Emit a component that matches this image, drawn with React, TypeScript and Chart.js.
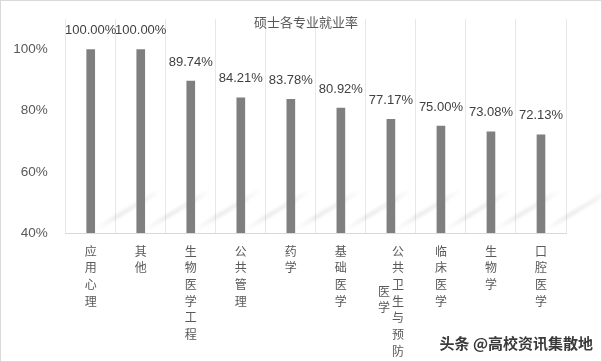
import React, { useEffect, useRef } from "react";
import { Chart, registerables } from "chart.js";

Chart.register(...registerables);

const categories: string[] = ["应用心理", "其他", "生物医学工程", "公共管理", "药学", "基础医学", "公共卫生与预防医学", "临床医学", "生物学", "口腔医学"];
const rates: number[] = [100.0, 100.0, 89.74, 84.21, 83.78, 80.92, 77.17, 75.0, 73.08, 72.13];
const yTicks: number[] = [40, 60, 80, 100];
const titleText = "硕士各专业就业率";
const watermark = "头条 @高校资讯集散地";

const FONT = "'Liberation Sans', 'Noto Sans CJK SC', sans-serif";
const CJK = "'Noto Sans CJK SC', sans-serif";

const shadows = {
  id: "shadows",
  beforeDatasetsDraw(chart: any) {
    const ctx = chart.ctx as CanvasRenderingContext2D;
    const meta = chart.getDatasetMeta(0);
    const bottom = chart.chartArea.bottom;
    ctx.save();
    ctx.filter = "blur(1.5px)";
    meta.data.forEach((bar: any) => {
      const x0 = bar.x + 4;
      const y0 = bottom - 3;
      const x1 = x0 + 66;
      const y1 = y0 - 40;
      const g = ctx.createLinearGradient(x0, y0, x1, y1);
      g.addColorStop(0, "rgba(0,0,0,0.0)");
      g.addColorStop(0.35, "rgba(0,0,0,0.08)");
      g.addColorStop(0.75, "rgba(0,0,0,0.06)");
      g.addColorStop(1, "rgba(0,0,0,0.0)");
      ctx.strokeStyle = g;
      ctx.lineWidth = 4;
      ctx.lineCap = "round";
      ctx.beginPath();
      ctx.moveTo(x0, y0);
      ctx.lineTo(x1, y1);
      ctx.stroke();
    });
    ctx.restore();
  },
};

const overlay = {
  id: "overlay",
  afterDatasetsDraw(chart: any) {
    const ctx = chart.ctx as CanvasRenderingContext2D;
    const area = chart.chartArea;
    const xs = chart.scales.x;
    const meta = chart.getDatasetMeta(0);
    ctx.save();
    // title
    ctx.fillStyle = "#595959";
    ctx.font = `13px ${CJK}`;
    ctx.textAlign = "center";
    ctx.textBaseline = "middle";
    ctx.fillText(titleText, 305, 21);
    // value labels
    ctx.fillStyle = "#404040";
    ctx.font = `13px ${FONT}`;
    meta.data.forEach((bar: any, i: number) => {
      ctx.fillText(rates[i].toFixed(2) + "%", bar.x, bar.y - 19);
    });
    // vertical category labels
    ctx.fillStyle = "#595959";
    ctx.font = `12px ${CJK}`;
    const step = 16.7;
    const y0 = area.bottom + 18;
    categories.forEach((c, i) => {
      const x = xs.getPixelForValue(i);
      const chars = Array.from(c);
      if (chars.length > 7) {
        const right = chars.slice(0, 7);
        const left = chars.slice(7);
        right.forEach((ch, k) => ctx.fillText(ch, x + 7, y0 + k * step));
        left.forEach((ch, k) => ctx.fillText(ch, x - 7, y0 + 2.4 * step + k * step));
      } else {
        chars.forEach((ch, k) => ctx.fillText(ch, x, y0 + k * step));
      }
    });
    // watermark
    ctx.font = `bold 15px ${CJK}`;
    ctx.textAlign = "right";
    ctx.lineWidth = 3;
    ctx.strokeStyle = "rgba(255,255,255,0.9)";
    ctx.strokeText(watermark, 592, 342);
    ctx.fillStyle = "#3a3a3a";
    ctx.fillText(watermark, 592, 342);
    ctx.restore();
  },
};

export default function App() {
  const ref = useRef<HTMLCanvasElement | null>(null);
  useEffect(() => {
    document.body.style.margin = "0";
    const chart = new Chart(ref.current as HTMLCanvasElement, {
      type: "bar",
      data: {
        labels: categories,
        datasets: [
          {
            data: rates,
            backgroundColor: "#7f7f7f",
            barThickness: 8,
          },
        ],
      },
      options: {
        animation: false,
        responsive: false,
        events: [],
        layout: { padding: { left: 0, right: 35, top: 14, bottom: 128 } },
        plugins: { legend: { display: false }, tooltip: { enabled: false }, title: { display: false } },
        scales: {
          x: {
            offset: true,
            grid: { display: true, color: "#e8e8e8", offset: true, drawTicks: false },
            border: { display: true, color: "#d9d9d9" },
            ticks: { display: false },
            afterFit(s: any) {
              s.height = 0;
            },
          },
          y: {
            min: 40,
            max: 110,
            grid: { display: false },
            border: { display: false },
            afterBuildTicks(s: any) {
              s.ticks = yTicks.map((v) => ({ value: v }));
            },
            afterFit(s: any) {
              s.width = 64.7;
            },
            ticks: {
              color: "#595959",
              font: { family: FONT, size: 13.5 },
              padding: 10,
              callback: (v: any) => v + "%",
            },
          },
        },
      },
      plugins: [shadows, overlay],
    });
    return () => chart.destroy();
  }, []);
  return (
    <div style={{ width: 600, height: 360, border: "1px solid #d9d9d9", background: "#fff" }}>
      <canvas ref={ref} width={600} height={360} style={{ display: "block" }} />
    </div>
  );
}
